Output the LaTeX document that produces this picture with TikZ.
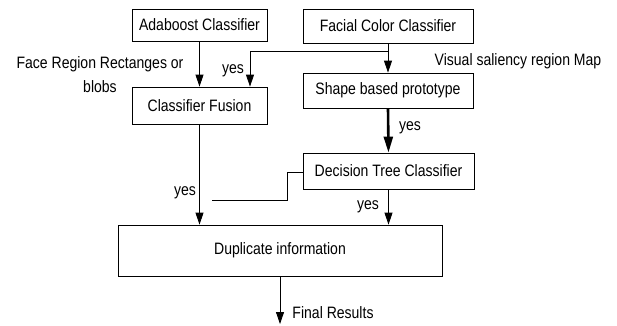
\documentclass[tikz,border=0pt]{standalone}
\usepackage{fontspec}
\setmainfont{Liberation Sans}[FakeStretch=0.85]
\usetikzlibrary{arrows.meta}
\begin{document}
\begin{tikzpicture}[x=1pt,y=-1pt,
  font=\fontsize{16.5}{20}\selectfont,
  box/.style={draw, line width=0.8pt, inner sep=0pt},
  conn/.style={line width=0.8pt},
  arr/.style={conn, -{Triangle[length=12pt,width=8pt]}},
  bigarr/.style={line width=2.6pt, -{Triangle[length=16pt,width=9pt]}},
  lbl/.style={inner sep=0pt}]
\useasboundingbox (0,0) rectangle (617,325);

% processing blocks
\node[box, minimum width=135, minimum height=32] (ada) at (199.5,25) {Adaboost Classifier};
\node[box, minimum width=135, minimum height=37] (fus) at (199.5,105.5) {Classifier Fusion};
\node[box, minimum width=170, minimum height=34] (fac) at (388,26) {Facial Color Classifier};
\node[box, minimum width=170, minimum height=35] (shp) at (388,90.5) {Shape based prototype};
\node[box, minimum width=171, minimum height=36] (dec) at (388.5,171) {Decision Tree Classifier};
\node[box, minimum width=324, minimum height=51] (dup) at (280,250.5) {Duplicate information};

% junction points
\coordinate (split) at (388,51);
\coordinate (splitL) at (250,51);
\coordinate (bendA) at (287,172);
\coordinate (bendB) at (287,200);
\coordinate (loose) at (212,200);
\coordinate (out) at (280,324);

% connectors
\draw[arr] (ada.south) -- (fus.north);
\draw[arr] (fac.south) -- (shp.north);
\draw[conn] (split) -- (splitL);
\draw[arr] (splitL) -- (splitL |- fus.north);
\draw[bigarr] (shp.south) -- (dec.north);
\draw[arr] (fus.south) -- (fus.south |- dup.north);
\draw[arr] (dec.south) -- (dec.south |- dup.north);
\draw[conn] (dec.west |- bendA) -- (bendA) -- (bendB) -- (loose);
\draw[arr] (dup.south) -- (out);

% labels
\node[lbl, align=center, font=\fontsize{16.5}{24}\selectfont] (facelbl) at (100,75) {Face Region Rectanges or\\blobs};
\node[lbl] (yes1) at (233,71) {yes};
\node[lbl] (vis) at (518,61) {Visual saliency region Map};
\node[lbl] (yes2) at (410,128) {yes};
\node[lbl] (yes3) at (185,193) {yes};
\node[lbl] (yes4) at (368,207) {yes};
\node[lbl] (fin) at (333,313) {Final Results};
\end{tikzpicture}
\end{document}
